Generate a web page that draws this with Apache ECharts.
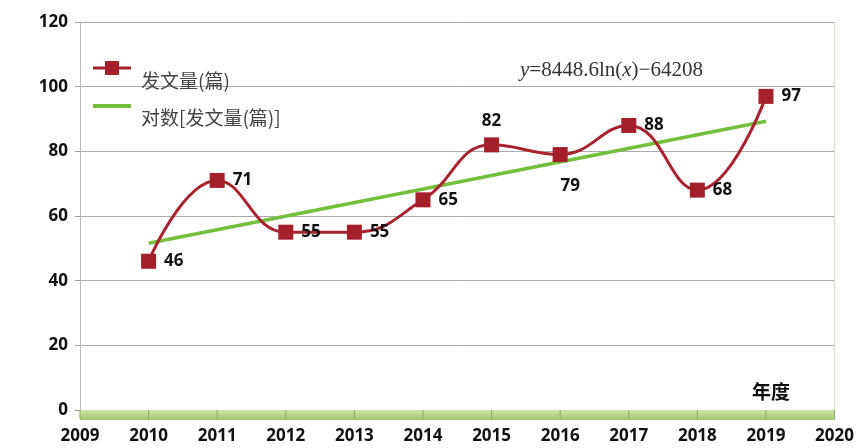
<!DOCTYPE html>
<html>
<head>
<meta charset="utf-8">
<script src="https://cdn.jsdelivr.net/npm/echarts@6/dist/echarts.min.js"></script>
<style>
  html, body { margin: 0; padding: 0; background: #fff; }
  #chart { width: 857px; height: 448px; }
</style>
</head>
<body>
<div id="chart"></div>
<script>
// data
const years = [2010, 2011, 2012, 2013, 2014, 2015, 2016, 2017, 2018, 2019]
const papers = [46, 71, 55, 55, 65, 82, 79, 88, 68, 97]
const trendYears = [2010, 2019]
const trendValues = [51.6, 89.3]
const yTicks = [0, 20, 40, 60, 80, 100, 120]

const seriesName = '发文量(篇)'
const trendName = '对数[发文量(篇)]'
const labelFont = "'Open Sans', sans-serif"
const red = '#a51f2a'
const green = '#72c03c'

const chart = echarts.init(document.getElementById('chart'), null, { renderer: 'canvas' })

const labelFor = y => {
  if (y === 2015) return { position: 'top', distance: 8 }
  if (y === 2016) return { position: 'bottom', distance: 16, offset: [10, 0] }
  return { position: 'right', distance: 8 }
}

const option = {
  animation: false,
  grid: { left: 80, right: 20, top: 22, bottom: 38 },
  xAxis: {
    type: 'value',
    min: 2009,
    max: 2020,
    interval: 1,
    splitLine: { show: false },
    axisLine: { lineStyle: { color: '#999' } },
    axisTick: { show: false },
    axisLabel: {
      margin: 18,
      color: '#111',
      fontWeight: 'bold',
      fontSize: 17,
      fontFamily: labelFont,
      formatter: v => String(v)
    }
  },
  yAxis: {
    type: 'value',
    min: yTicks[0],
    max: yTicks[yTicks.length - 1],
    interval: 20,
    axisLine: { show: true, lineStyle: { color: '#bbb' } },
    axisTick: { show: true, length: 5, lineStyle: { color: '#999' } },
    splitLine: { lineStyle: { color: '#aaa', width: 1 } },
    axisLabel: {
      margin: 12,
      color: '#111',
      fontWeight: 'bold',
      fontSize: 17,
      fontFamily: labelFont
    }
  },
  series: [
    {
      name: seriesName,
      type: 'line',
      smooth: 0.45,
      symbol: 'rect',
      symbolSize: 15,
      z: 3,
      data: years.map((y, i) => ({ value: [y, papers[i]], label: labelFor(y) })),
      lineStyle: { color: '#a8232e', width: 3 },
      itemStyle: { color: red },
      label: {
        show: true,
        formatter: p => p.value[1],
        color: '#111',
        fontWeight: 'bold',
        fontSize: 17,
        fontFamily: labelFont
      }
    },
    {
      name: trendName,
      type: 'line',
      symbol: 'none',
      z: 2,
      data: trendYears.map((y, i) => [y, trendValues[i]]),
      lineStyle: { color: green, width: 3.5 }
    }
  ]
}

chart.setOption(option)

// green floor band under the x axis, plus year ticks over it
const [x0, yBase] = chart.convertToPixel({ gridIndex: 0 }, [2009, 0])
const [x1] = chart.convertToPixel({ gridIndex: 0 }, [2020, 0])
const ticks = []
for (let y = 2009; y <= 2020; y++) {
  const px = chart.convertToPixel({ gridIndex: 0 }, [y, 0])[0]
  ticks.push({
    type: 'line',
    shape: { x1: px, y1: yBase, x2: px, y2: yBase + 9 },
    style: { stroke: '#8aa860', lineWidth: 1 },
    z: 5
  })
}

const legendText = "19px 'Noto Sans CJK SC', serif"

chart.setOption({
  graphic: [
    {
      type: 'rect',
      shape: { x: x0, y: yBase, width: x1 - x0, height: 10 },
      style: {
        fill: new echarts.graphic.LinearGradient(0, 0, 0, 1, [
          { offset: 0, color: '#cfe2a8' },
          { offset: 1, color: '#a3c66c' }
        ])
      },
      z: 4
    },
    ...ticks,
    {
      type: 'line',
      shape: { x1: x1, y1: 22, x2: x1, y2: yBase },
      style: { stroke: '#dde6cf', lineWidth: 1.5 },
      z: 1
    },
    // legend
    { type: 'line', shape: { x1: 93, y1: 68, x2: 131, y2: 68 }, style: { stroke: red, lineWidth: 3 }, z: 10 },
    { type: 'rect', shape: { x: 105, y: 61, width: 14, height: 14 }, style: { fill: red }, z: 10 },
    { type: 'text', x: 141, y: 71, style: { text: seriesName, font: legendText, fill: '#444' }, z: 10 },
    { type: 'line', shape: { x1: 93, y1: 106, x2: 131, y2: 106 }, style: { stroke: green, lineWidth: 4 }, z: 10 },
    { type: 'text', x: 141, y: 108, style: { text: trendName, font: legendText, fill: '#444' }, z: 10 },
    {
      type: 'text',
      left: 520,
      top: 60,
      style: {
        text: '{i|y}{n|=8448.6ln(}{i|x}{n|)−64208}',
        rich: {
          i: { fontFamily: "'Liberation Serif', serif", fontStyle: 'italic', fontSize: 21, fill: '#333' },
          n: { fontFamily: "'Liberation Serif', serif", fontSize: 21, fill: '#333' }
        }
      }
    },
    {
      type: 'text',
      left: 752,
      top: 382,
      style: {
        text: '年度',
        font: "bold 19px 'Noto Sans CJK SC', sans-serif",
        fill: '#111'
      }
    }
  ]
})
</script>
</body>
</html>
